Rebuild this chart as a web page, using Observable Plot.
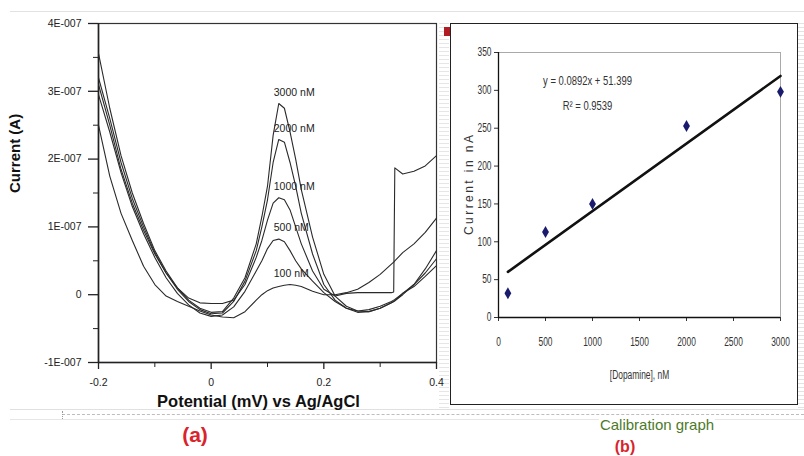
<!DOCTYPE html>
<html>
<head>
<meta charset="utf-8">
<script src="https://cdn.jsdelivr.net/npm/d3@7"></script>
<script src="https://cdn.jsdelivr.net/npm/@observablehq/plot@0.6"></script>
<style>
  html, body { margin: 0; padding: 0; background: #fff; }
  #page { position: relative; width: 804px; height: 456px; overflow: hidden; background: #fff; font-family: "Liberation Sans", Arial, sans-serif; }
  .abs { position: absolute; }
  #panelA { left: 0; top: 0; }
  #panelB { left: 450px; top: 23px; width: 346px; height: 380px; border: 1.5px solid #222; }
  .cap { position: absolute; white-space: nowrap; transform: translateX(-50%); line-height: 1; }
</style>
</head>
<body>
<div id="page">
  <div class="abs" style="left:10px;top:11px;width:794px;height:1px;background:#e2e2e2"></div>
  <div class="abs" style="left:439px;top:20px;width:10px;height:390px;background:repeating-linear-gradient(#fff 0 3px,#e6e6e6 3px 4px)"></div>
  <div class="abs" style="left:444px;top:27px;width:6px;height:9px;background:#b01c24"></div>
  <div class="abs" style="left:798px;top:20px;width:6px;height:390px;background:repeating-linear-gradient(#fff 0 3px,#e3e3e3 3px 4px)"></div>
  <div class="abs" style="left:10px;top:409px;width:794px;height:1px;background:#e0e0e0"></div>
  <div class="abs" style="left:62px;top:414px;width:742px;height:0;border-top:1px dashed #bdbdbd"></div>
  <div class="abs" style="left:62px;top:411px;width:0;height:8px;border-left:1px dotted #999"></div>
  <div class="abs" style="left:10px;top:419px;width:794px;height:1px;background:#e6e6e6"></div>
  <div id="panelA" class="abs"></div>
  <div id="panelB" class="abs"></div>
  <div class="cap" style="left:195px;top:424px;color:#d8242c;font-weight:bold;font-size:21px">(a)</div>
  <div class="cap" style="left:657px;top:417px;color:#4d7a2a;font-size:15px;background:#fff;padding:0 1px">Calibration graph</div>
  <div class="cap" style="left:625px;top:439px;color:#d8242c;font-weight:bold;font-size:16px">(b)</div>
</div>
<script>
// ---------- Panel (a): differential pulse voltammograms ----------
// potential in V vs Ag/AgCl
const potential = [-0.20,-0.18,-0.16,-0.14,-0.12,-0.10,-0.08,-0.06,-0.04,-0.02,0.00,0.02,0.04,0.06,0.08,0.09,0.10,0.11,0.12,0.13,0.14,0.15,0.16,0.18,0.20,0.22,0.24,0.26,0.28,0.30,0.32,0.324,0.326,0.34,0.36,0.38,0.40];
// currents in units of 1E-007 A
const current3000 = [3.56,2.75,2.05,1.50,1.05,0.65,0.35,0.10,-0.08,-0.20,-0.26,-0.25,-0.05,0.25,0.75,1.15,1.60,2.35,2.82,2.75,2.40,2.00,1.55,0.85,0.30,-0.02,-0.17,-0.24,-0.25,-0.20,-0.12,-0.10,-0.09,0.00,0.15,0.38,0.65];
const current2000 = [3.20,2.60,1.95,1.42,1.00,0.62,0.32,0.08,-0.10,-0.22,-0.28,-0.27,-0.10,0.20,0.65,1.00,1.40,1.95,2.29,2.25,1.95,1.60,1.20,0.60,0.15,-0.08,-0.20,-0.26,-0.25,-0.20,-0.12,-0.10,-0.09,0.02,0.15,0.32,0.53];
const current1000 = [3.10,2.50,1.85,1.35,0.95,0.60,0.32,0.10,-0.05,-0.12,-0.13,-0.13,-0.08,0.15,0.55,0.80,1.10,1.35,1.43,1.40,1.25,1.00,0.75,0.35,0.08,-0.02,0.02,0.03,0.03,0.03,0.03,0.04,1.87,1.78,1.82,1.90,2.05];
const current500  = [2.95,2.40,1.80,1.30,0.90,0.55,0.25,0.02,-0.15,-0.27,-0.32,-0.30,-0.18,0.05,0.35,0.50,0.68,0.80,0.82,0.78,0.65,0.50,0.38,0.20,0.03,-0.10,-0.20,-0.24,-0.22,-0.17,-0.10,-0.08,-0.07,0.02,0.12,0.27,0.43];
const current100  = [2.50,1.75,1.20,0.80,0.42,0.15,-0.02,-0.10,-0.17,-0.24,-0.30,-0.33,-0.34,-0.25,-0.08,0.00,0.06,0.10,0.12,0.14,0.15,0.14,0.12,0.05,0.00,0.00,0.03,0.08,0.18,0.30,0.45,0.48,0.50,0.62,0.75,0.92,1.13];
const seriesNames = ["3000 nM","2000 nM","1000 nM","500 nM","100 nM"];
const seriesCurrents = [current3000, current2000, current1000, current500, current100];
const yTicksA = [-1, 0, 1, 2, 3, 4];
const yMinorA = [-0.5, 0.5, 1.5, 2.5, 3.5];
const xTicksA = [-0.2, 0, 0.2, 0.4];
const xMinorA = [-0.1, 0.1, 0.3];

const curveData = seriesNames.flatMap((name, s) =>
  potential.map((p, i) => ({series: name, x: p, y: seriesCurrents[s][i]})));
// labels sit above each peak, left-aligned at the common peak potential
const peakIndex = current3000.indexOf(d3.max(current3000.filter((v, i) => potential[i] > 0.05)));
const peakLabels = seriesNames.map((name, s) => {
  const inPeak = seriesCurrents[s].filter((v, i) => potential[i] >= 0.08 && potential[i] <= 0.2);
  return {name, x: potential[peakIndex], y: d3.max(inPeak)};
});

const fmtA = d => d === 0 ? "0" : `${d}E-007`;
const tickFont = "Liberation Sans, Arial, sans-serif";

const plotA = Plot.plot({
  width: 445, height: 416,
  marginLeft: 98, marginRight: 9, marginTop: 23, marginBottom: 54,
  style: {fontFamily: tickFont, fontSize: "10.5px", color: "#222", background: "transparent"},
  x: {domain: [-0.2, 0.4]},
  y: {domain: [-1, 4]},
  marks: [
    Plot.frame({stroke: "#333", strokeWidth: 1.2}),
    Plot.axisY(yTicksA, {tickSize: 10, tickFormat: fmtA, tickPadding: 7, label: null, strokeWidth: 1.3}),
    Plot.axisY(yMinorA, {tickSize: 5, tickFormat: () => "", label: null}),
    Plot.axisX(xTicksA, {tickSize: 7, tickFormat: d => d === 0 ? "0" : String(d), tickPadding: 9, label: null, strokeWidth: 1.3}),
    Plot.axisX(xMinorA, {tickSize: 5, tickFormat: () => "", label: null}),
    Plot.ruleX([-0.2], {stroke: "#222", strokeWidth: 1.6}),
    Plot.ruleY([-1], {stroke: "#222", strokeWidth: 1.6}),
    Plot.line(curveData, {x: "x", y: "y", z: "series", stroke: "#2a2a2a", strokeWidth: 1.1}),
    Plot.text(peakLabels, {x: "x", y: "y", text: "name", textAnchor: "start", dx: -5, dy: -11, fontSize: 10.5, fill: "#222"}),
    Plot.text(["Current (A)"], {frameAnchor: "left", rotate: -90, dx: -83, fontSize: 15, fontWeight: "bold", fill: "#111", text: d => d}),
    Plot.text(["Potential (mV) vs Ag/AgCl"], {frameAnchor: "bottom", dy: 44, dx: -9, fontSize: 16.5, fontWeight: "bold", fill: "#111", text: d => d})
  ]
});
document.getElementById("panelA").appendChild(plotA);

// ---------- Panel (b): calibration graph ----------
const concentration = [100, 500, 1000, 2000, 3000]; // nM
const peakCurrent = [32, 113, 150, 253, 298];       // nA
const fitSlope = 0.0892;
const fitIntercept = 51.399;
const fitR2 = 0.9539;
const fitRange = [100, 3000];
const xTicksB = [0, 500, 1000, 1500, 2000, 2500, 3000];
const yTicksB = [0, 50, 100, 150, 200, 250, 300, 350];

const narrow = "'Liberation Sans', Arial, sans-serif";
const plotB = Plot.plot({
  width: 346, height: 380,
  marginLeft: 47, marginRight: 17, marginTop: 28, marginBottom: 87,
  style: {fontFamily: narrow, fontSize: "12px", color: "#333", background: "transparent"},
  x: {domain: [0, 3000]},
  y: {domain: [0, 350]},
  marks: [
    Plot.frame({stroke: "#aaa", strokeWidth: 1}),
    Plot.axisY(yTicksB, {tickSize: 4, tickPadding: 3, tickFormat: d => String(d), label: "Current in nA", labelAnchor: "center", labelArrow: "none", labelOffset: 34, fontSize: 12}),
    Plot.axisX(xTicksB, {tickSize: 4, tickPadding: 16, tickFormat: d => String(d), label: "[Dopamine], nM", labelAnchor: "center", labelArrow: "none", labelOffset: 61, fontSize: 12}),
    Plot.ruleX([0], {stroke: "#111", strokeWidth: 1.3}),
    Plot.ruleY([0], {stroke: "#111", strokeWidth: 1.3}),
    Plot.line(fitRange, {x: d => d, y: d => fitSlope * d + fitIntercept, stroke: "#111", strokeWidth: 2.6}),
    Plot.dot(concentration.map((c, i) => ({c, v: peakCurrent[i]})), {x: "c", y: "v", symbol: "diamond", r: 3.6, fill: "#1b1b6e", stroke: "none"}),
    Plot.text([`y = ${fitSlope}x + ${fitIntercept}`], {frameAnchor: "top-left", dx: 89, dy: 23, textAnchor: "middle", fontSize: 13.5, fill: "#333", text: d => d}),
    Plot.text([`R² = ${fitR2}`], {frameAnchor: "top-left", dx: 89, dy: 48, textAnchor: "middle", fontSize: 13.5, fill: "#333", text: d => d})
  ]
});
document.getElementById("panelB").appendChild(plotB);

// condense the narrow (Excel-style) lettering of panel (b)
d3.select(plotB).selectAll("text").each(function () {
  const len = this.getComputedTextLength();
  if (!len) return;
  const t = this.textContent;
  const target = t === "Current in nA" ? 100 : len * 0.7;
  this.setAttribute("textLength", target);
  this.setAttribute("lengthAdjust", t === "Current in nA" ? "spacing" : "spacingAndGlyphs");
});
</script>
</body>
</html>
